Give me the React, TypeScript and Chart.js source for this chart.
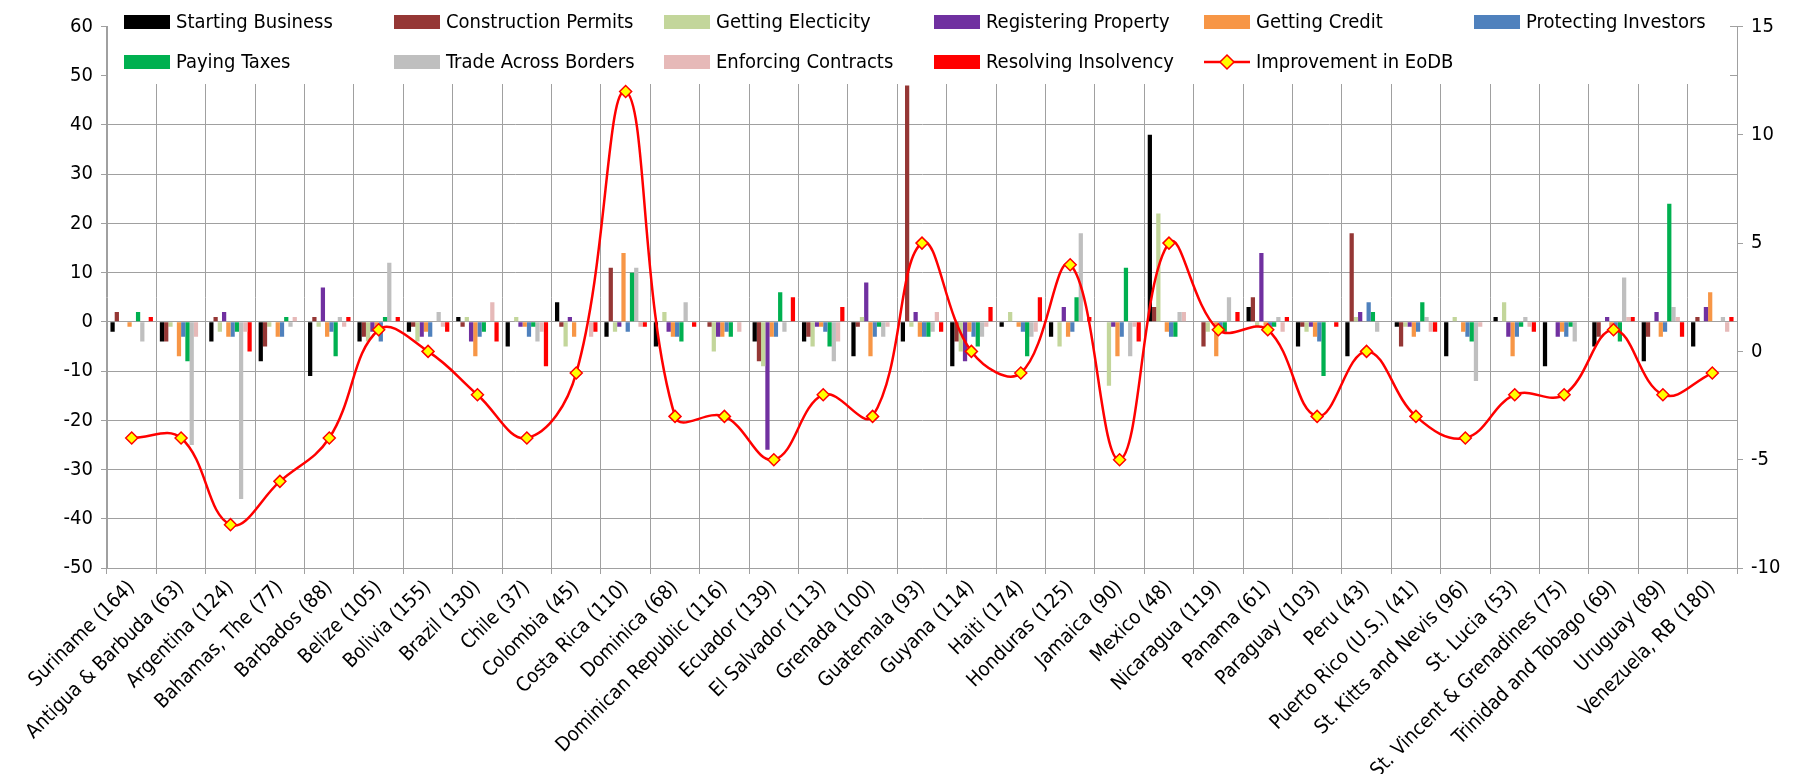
import React, { useEffect, useRef } from "react";
import { Chart, registerables } from "chart.js";

Chart.register(...registerables);

const categories = [
  "Suriname (164)", "Antigua & Barbuda (63)", "Argentina (124)", "Bahamas, The (77)", "Barbados (88)",
  "Belize (105)", "Bolivia (155)", "Brazil (130)", "Chile (37)", "Colombia (45)", "Costa Rica (110)",
  "Dominica (68)", "Dominican Republic (116)", "Ecuador (139)", "El Salvador (113)", "Grenada (100)",
  "Guatemala (93)", "Guyana (114)", "Haiti (174)", "Honduras (125)", "Jamaica (90)", "Mexico (48)",
  "Nicaragua (119)", "Panama (61)", "Paraguay (103)", "Peru (43)", "Puerto Rico (U.S.) (41)",
  "St. Kitts and Nevis (96)", "St. Lucia (53)", "St. Vincent & Grenadines (75)",
  "Trinidad and Tobago (69)", "Uruguay (89)", "Venezuela, RB (180)",
];

const startingBusiness = [-2, -4, -4, -8, -11, -4, -2, 1, -5, 4, -3, -5, 0, -4, -4, -7, -4, -9, -1, -3, 0, 38, 0, 3, -5, -7, -1, -7, 1, -9, -5, -8, -5];
const constructionPermits = [2, -4, 1, -5, 1, -3, -1, -1, 0, -1, 11, 0, -1, -8, -3, -1, 48, -4, 0, 0, 0, 3, -5, 5, -1, 18, -5, 0, 0, 0, -3, -3, 1];
const gettingElectricity = [0, -1, -2, -1, -1, -4, -4, 1, 1, -5, -2, 2, -6, -9, -5, 1, -1, -6, 2, -5, -13, 22, -2, -1, -2, 1, -1, 1, 4, 0, 0, 0, 0];
const registeringProperty = [0, 0, 2, 0, 7, -2, -3, -4, -1, 1, -1, -2, -3, -26, -1, 8, 2, -8, 0, 3, -1, 0, 0, 14, -1, 2, -1, 0, -3, -3, 1, 2, 3];
const gettingCredit = [-1, -7, -3, -3, -3, -2, -2, -7, -1, -3, 14, -3, -3, -3, -1, -7, -3, -2, -1, -3, -7, -2, -7, -1, -3, 0, -3, -2, -7, -2, -1, -3, 6];
const protectingInvestors = [0, -3, -3, -3, -2, -4, -3, -3, -3, 0, -2, -3, -2, -3, -2, -3, -3, -3, -2, -2, -3, -3, -2, -1, -4, 4, -2, -3, -3, -3, -1, -2, 0];
const payingTaxes = [2, -8, -2, 1, -7, 1, 0, -2, -1, 0, 10, -4, -3, 6, -5, -1, -3, -5, -7, 5, 11, -3, -2, -1, -11, 2, 4, -4, -1, -1, -4, 24, 0];
const tradeAcrossBorders = [-4, -25, -36, -1, 1, 12, 2, 0, -4, 0, 11, 4, 0, -2, -8, -3, -2, -3, -3, 18, -7, 2, 5, 1, 0, -2, 1, -12, 1, -4, 9, 3, 1];
const enforcingContracts = [0, -3, -2, 1, -1, 0, -1, 4, -2, -3, -1, 0, -2, 0, -4, -1, 2, -1, -2, 0, -1, 2, 0, -2, 0, 0, -2, -1, -1, 0, 1, 1, -2];
const resolvingInsolvency = [1, 0, -6, 0, 1, 1, -2, -4, -9, -2, -1, -1, 0, 5, 3, 0, -2, 3, 5, 1, -4, 0, 2, 1, -1, 0, -2, 0, -2, 0, 1, -3, 1];
const improvementEoDB = [-4, -4, -8, -6, -4, 1, 0, -2, -4, -1, 12, -3, -3, -5, -2, -3, 5, 0, -1, 4, -5, 5, 1, 1, -3, 0, -3, -4, -2, -2, 1, -2, -1];

const leftTicks = [-50, -40, -30, -20, -10, 0, 10, 20, 30, 40, 50, 60];
const rightTicks = [-10, -5, 0, 5, 10, 15];

const barSeries = [
  { label: "Starting Business", data: startingBusiness, color: "#000000" },
  { label: "Construction Permits", data: constructionPermits, color: "#953735" },
  { label: "Getting Electicity", data: gettingElectricity, color: "#C3D69B" },
  { label: "Registering Property", data: registeringProperty, color: "#7030A0" },
  { label: "Getting Credit", data: gettingCredit, color: "#F79646" },
  { label: "Protecting Investors", data: protectingInvestors, color: "#4F81BD" },
  { label: "Paying Taxes", data: payingTaxes, color: "#00B050" },
  { label: "Trade Across Borders", data: tradeAcrossBorders, color: "#BFBFBF" },
  { label: "Enforcing Contracts", data: enforcingContracts, color: "#E6B9B8" },
  { label: "Resolving Insolvency", data: resolvingInsolvency, color: "#FF0000" },
];

const FONT = "'Liberation Sans Narrow', 'DejaVu Sans Condensed', 'Roboto', sans-serif";
const W = 1805;
const H = 774;
const PLOT_LEFT = 107;
const PLOT_RIGHT = 1737;
const PLOT_TOP = 26.5;
const PLOT_BOTTOM = 568;

const legendPlugin = {
  id: "excelLegend",
  afterDraw(chart: any) {
    const ctx = chart.ctx;
    ctx.save();
    ctx.fillStyle = "#FFFFFF";
    ctx.fillRect(PLOT_LEFT + 1, 0, PLOT_RIGHT - PLOT_LEFT - 8, 84);
    const items = [
      ...barSeries.map((s) => ({ label: s.label, color: s.color, line: false })),
      { label: "Improvement in EoDB", color: "#FF0000", line: true },
    ];
    const colX0 = 124;
    const colW = 270;
    const rowY = [22, 62];
    ctx.font = `20px ${FONT}`;
    ctx.textBaseline = "middle";
    ctx.textAlign = "left";
    items.forEach((it, i) => {
      const row = i < 6 ? 0 : 1;
      const col = i < 6 ? i : i - 6;
      const x = colX0 + col * colW;
      const y = rowY[row];
      if (it.line) {
        ctx.strokeStyle = "#FF0000";
        ctx.lineWidth = 2.5;
        ctx.beginPath();
        ctx.moveTo(x, y);
        ctx.lineTo(x + 46, y);
        ctx.stroke();
        ctx.beginPath();
        ctx.moveTo(x + 23, y - 7);
        ctx.lineTo(x + 30, y);
        ctx.lineTo(x + 23, y + 7);
        ctx.lineTo(x + 16, y);
        ctx.closePath();
        ctx.fillStyle = "#FFFF00";
        ctx.fill();
        ctx.lineWidth = 1.5;
        ctx.stroke();
      } else {
        ctx.fillStyle = it.color;
        ctx.fillRect(x, y - 7, 46, 14);
      }
      ctx.fillStyle = "#000000";
      ctx.fillText(it.label, x + 52, y + 1);
    });
    ctx.restore();
  },
};

export default function App() {
  const ref = useRef<HTMLCanvasElement | null>(null);

  useEffect(() => {
    document.body.style.margin = "0";
    const canvas = ref.current;
    if (!canvas) return;
    const datasets: any[] = barSeries.map((s) => ({
      type: "bar",
      label: s.label,
      data: s.data,
      backgroundColor: s.color,
      borderWidth: 0,
      yAxisID: "y",
      order: 2,
      categoryPercentage: 0.86,
      barPercentage: 1.0,
    }));
    datasets.push({
      type: "line",
      label: "Improvement in EoDB",
      data: improvementEoDB,
      yAxisID: "y2",
      order: 0,
      borderColor: "#FF0000",
      borderWidth: 2.5,
      tension: 0.4,
      pointStyle: "rectRot",
      pointRadius: 6,
      pointBackgroundColor: "#FFFF00",
      pointBorderColor: "#FF0000",
      pointBorderWidth: 1.5,
      fill: false,
    });

    const chart = new Chart(canvas, {
      type: "bar",
      data: { labels: categories, datasets },
      options: {
        responsive: false,
        animation: false,
        layout: { padding: { top: PLOT_TOP, left: 0, right: 0, bottom: 0 } },
        plugins: { legend: { display: false }, tooltip: { enabled: false } },
        scales: {
          x: {
            type: "category",
            grid: { color: "#A0A0A0", lineWidth: 1, offset: true, tickLength: 6 },
            border: { color: "#A0A0A0" },
            ticks: {
              autoSkip: false,
              minRotation: 45,
              maxRotation: 45,
              color: "#000000",
              font: { family: FONT, size: 20 },
              padding: 2,
            },
            afterFit: (s: any) => {
              s.height = H - PLOT_BOTTOM;
            },
          },
          y: {
            position: "left",
            min: -50,
            max: 60,
            afterBuildTicks: (s: any) => {
              s.ticks = leftTicks.map((v) => ({ value: v }));
            },
            grid: { color: "#A0A0A0", lineWidth: 1, tickLength: 6 },
            border: { color: "#A0A0A0" },
            ticks: { color: "#000000", font: { family: FONT, size: 20 }, padding: 8 },
            afterFit: (s: any) => {
              s.width = PLOT_LEFT;
            },
          },
          y2: {
            position: "right",
            min: -10,
            max: 15,
            afterBuildTicks: (s: any) => {
              s.ticks = rightTicks.map((v) => ({ value: v }));
            },
            grid: { drawOnChartArea: false, color: "#A0A0A0", tickLength: 6 },
            border: { color: "#A0A0A0" },
            ticks: { color: "#000000", font: { family: FONT, size: 20 }, padding: 8 },
            afterFit: (s: any) => {
              s.width = W - PLOT_RIGHT;
            },
          },
        },
      },
      plugins: [legendPlugin],
    });
    return () => chart.destroy();
  }, []);

  return (
    <div style={{ position: "absolute", left: 0, top: 0, width: W, height: H, background: "#fff" }}>
      <canvas ref={ref} width={W} height={H} style={{ width: W, height: H, display: "block" }} />
    </div>
  );
}
